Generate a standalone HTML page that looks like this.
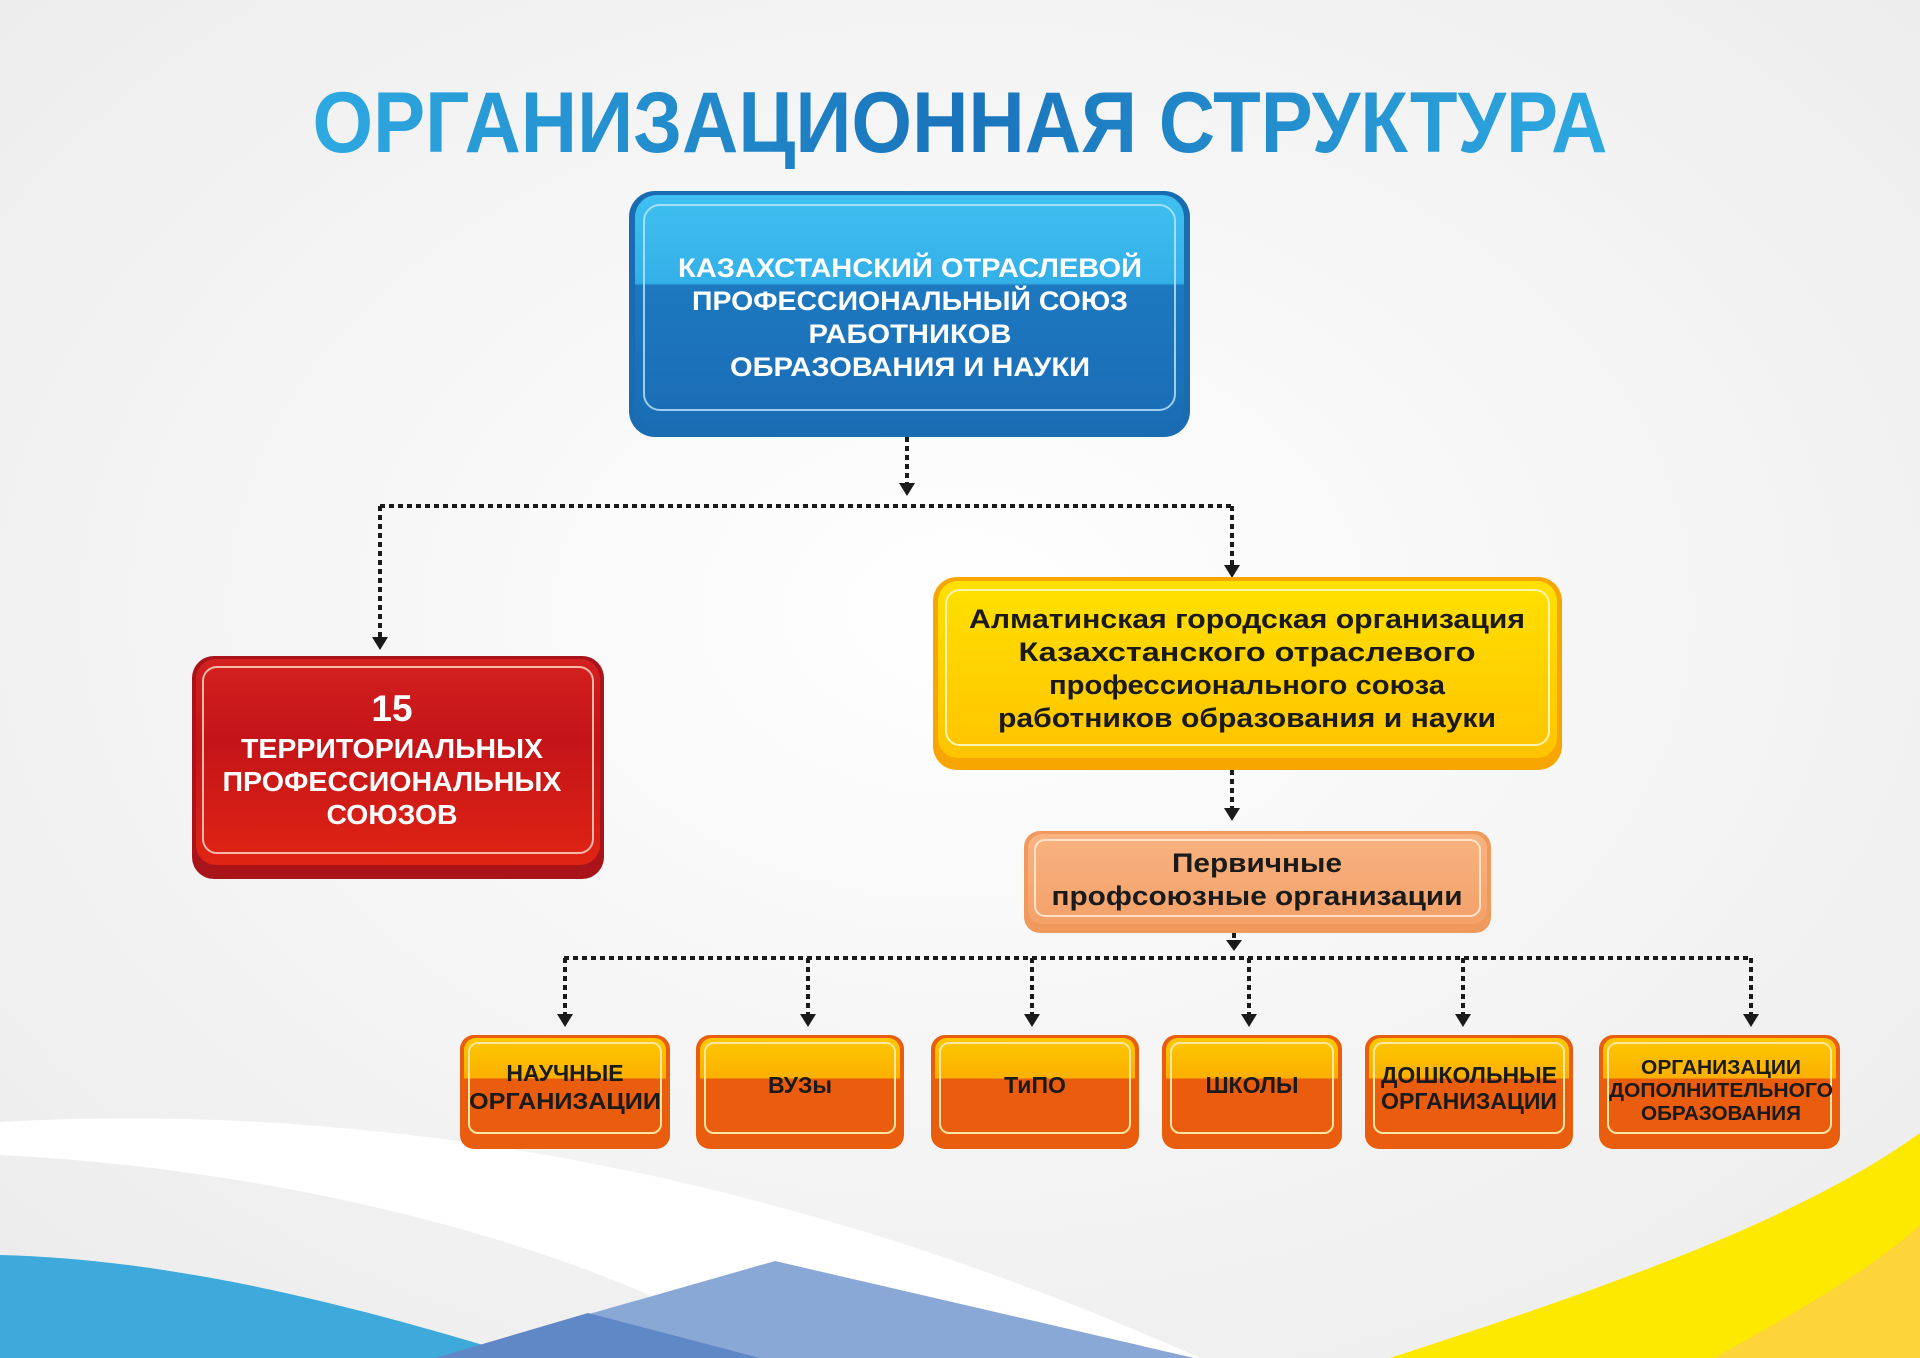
<!DOCTYPE html>
<html><head><meta charset="utf-8"><style>
html,body{margin:0;padding:0;}
body{width:1920px;height:1358px;overflow:hidden;background:#f4f4f4;}
svg{display:block;font-family:"Liberation Sans",sans-serif;font-weight:bold;}
</style></head><body>
<svg width="1920" height="1358" viewBox="0 0 1920 1358" xmlns="http://www.w3.org/2000/svg">
<defs>
<radialGradient id="bg" cx="0.5" cy="0.45" r="0.7"><stop offset="0" stop-color="#ffffff"/><stop offset="1" stop-color="#ececec"/></radialGradient>
<linearGradient id="tt" x1="0" x2="1"><stop offset="0" stop-color="#2ea9e1"/><stop offset="0.5" stop-color="#1a74bb"/><stop offset="1" stop-color="#2ea9e1"/></linearGradient>
<linearGradient id="bl" x1="0" y1="0" x2="0" y2="1"><stop offset="0" stop-color="#3ec0f0"/><stop offset="0.38" stop-color="#34b0e8"/><stop offset="0.39" stop-color="#1d78c0"/><stop offset="1" stop-color="#1a6db5"/></linearGradient>
<linearGradient id="rd" x1="0" y1="0" x2="0" y2="1"><stop offset="0" stop-color="#d42020"/><stop offset="0.4" stop-color="#c41418"/><stop offset="1" stop-color="#e02414"/></linearGradient>
<linearGradient id="yl" x1="0" y1="0" x2="0" y2="1"><stop offset="0" stop-color="#ffe000"/><stop offset="1" stop-color="#ffc400"/></linearGradient>
<linearGradient id="pc" x1="0" y1="0" x2="0" y2="1"><stop offset="0" stop-color="#f8b380"/><stop offset="1" stop-color="#f4a16a"/></linearGradient>
<linearGradient id="or" x1="0" y1="0" x2="0" y2="1"><stop offset="0" stop-color="#fdc800"/><stop offset="0.4" stop-color="#fbb000"/><stop offset="0.41" stop-color="#ea5c0e"/><stop offset="1" stop-color="#ea5c0e"/></linearGradient>
</defs>
<rect width="1920" height="1358" fill="url(#bg)"/>
<path d="M0,1122 C400,1100 800,1180 1200,1358 L770,1358 C600,1250 300,1170 0,1155 Z" fill="#ffffff"/>
<path d="M0,1255 C200,1260 400,1320 527,1358 L0,1358 Z" fill="#3eaadc"/>
<path d="M775,1261 L1194,1358 L435,1358 Z" fill="#8aa8d6"/>
<path d="M588,1313 L760,1358 L435,1358 Z" fill="#6088c6"/>
<path d="M1390,1358 C1600,1290 1800,1220 1920,1133 L1920,1358 Z" fill="#fde800"/>
<path d="M1714,1358 C1800,1310 1870,1270 1920,1225 L1920,1358 Z" fill="#fdd43a"/>
<text x="960" y="152" text-anchor="middle" font-size="86" fill="url(#tt)" textLength="1295" lengthAdjust="spacingAndGlyphs">ОРГАНИЗАЦИОННАЯ СТРУКТУРА</text>
<g stroke="#1a1a1a" stroke-width="4" stroke-dasharray="5 4" fill="none">
<path d="M907,437 V492"/>
<path d="M380,506 H1232"/>
<path d="M380,506 V640"/>
<path d="M1232,506 V570"/>
<path d="M1232,770 V815"/>
<path d="M1234,933 V948"/>
<path d="M564,958 H1751"/>
<path d="M565,958 V1020 M808,958 V1020 M1032,958 V1020 M1249,958 V1020 M1463,958 V1020 M1751,958 V1020"/>
</g>
<g fill="#1a1a1a">
<path d="M899,483 h16 l-8,13 z"/><path d="M372,637 h16 l-8,13 z"/><path d="M1224,565 h16 l-8,13 z"/>
<path d="M1224,808 h16 l-8,13 z"/><path d="M1226,940 h16 l-8,11 z"/>
<path d="M557,1014 h16 l-8,13 z"/><path d="M800,1014 h16 l-8,13 z"/><path d="M1024,1014 h16 l-8,13 z"/>
<path d="M1241,1014 h16 l-8,13 z"/><path d="M1455,1014 h16 l-8,13 z"/><path d="M1743,1014 h16 l-8,13 z"/>
</g>
<rect x="629" y="191" width="561" height="246" rx="26" fill="#1a6cb2"/>
<rect x="635" y="195" width="549" height="232" rx="22" fill="url(#bl)"/>
<rect x="644" y="205" width="531" height="205" rx="16" fill="none" stroke="#bfe6fb" stroke-width="2" opacity="0.8"/>
<g fill="#fff" font-size="27" text-anchor="middle" lengthAdjust="spacingAndGlyphs">
<text x="910" y="277" textLength="464" lengthAdjust="spacingAndGlyphs">КАЗАХСТАНСКИЙ ОТРАСЛЕВОЙ</text>
<text x="910" y="310" textLength="436" lengthAdjust="spacingAndGlyphs">ПРОФЕССИОНАЛЬНЫЙ СОЮЗ</text>
<text x="910" y="343" textLength="203" lengthAdjust="spacingAndGlyphs">РАБОТНИКОВ</text>
<text x="910" y="376" textLength="360" lengthAdjust="spacingAndGlyphs">ОБРАЗОВАНИЯ И НАУКИ</text>
</g>
<rect x="192" y="656" width="412" height="223" rx="22" fill="#a8141a"/>
<rect x="196" y="659" width="404" height="206" rx="20" fill="url(#rd)"/>
<rect x="203" y="667" width="390" height="186" rx="14" fill="none" stroke="#f6b8a8" stroke-width="2"/>
<g fill="#fff" font-size="28" text-anchor="middle">
<text x="392" y="721" font-size="37">15</text>
<text x="392" y="758" textLength="302" lengthAdjust="spacingAndGlyphs">ТЕРРИТОРИАЛЬНЫХ</text>
<text x="392" y="791" textLength="339" lengthAdjust="spacingAndGlyphs">ПРОФЕССИОНАЛЬНЫХ</text>
<text x="392" y="824" textLength="131" lengthAdjust="spacingAndGlyphs">СОЮЗОВ</text>
</g>
<rect x="933" y="577" width="629" height="193" rx="24" fill="#f7a600"/>
<rect x="938" y="581" width="619" height="177" rx="20" fill="url(#yl)"/>
<rect x="946" y="590" width="603" height="155" rx="14" fill="none" stroke="#fff4b0" stroke-width="2"/>
<g fill="#1a1a1a" font-size="27" text-anchor="middle">
<text x="1247" y="628" textLength="556" lengthAdjust="spacingAndGlyphs">Алматинская городская организация</text>
<text x="1247" y="661" textLength="457" lengthAdjust="spacingAndGlyphs">Казахстанского отраслевого</text>
<text x="1247" y="694" textLength="396" lengthAdjust="spacingAndGlyphs">профессионального союза</text>
<text x="1247" y="727" textLength="498" lengthAdjust="spacingAndGlyphs">работников образования и науки</text>
</g>
<rect x="1024" y="831" width="467" height="102" rx="16" fill="#ef9a5c"/>
<rect x="1028" y="834" width="459" height="90" rx="14" fill="url(#pc)"/>
<rect x="1035" y="840" width="445" height="76" rx="10" fill="none" stroke="#ffe2c8" stroke-width="2"/>
<g fill="#1a1a1a" font-size="27" text-anchor="middle">
<text x="1257" y="872" textLength="170" lengthAdjust="spacingAndGlyphs">Первичные</text>
<text x="1257" y="905" textLength="411" lengthAdjust="spacingAndGlyphs">профсоюзные организации</text>
</g>
<g>
<rect x="460" y="1035" width="210" height="114" rx="14" fill="#e95d0f"/><rect x="464" y="1038" width="202" height="100" rx="12" fill="url(#or)"/><rect x="469" y="1043" width="192" height="90" rx="9" fill="none" stroke="#ffe6a0" stroke-width="2"/>
<rect x="696" y="1035" width="208" height="114" rx="14" fill="#e95d0f"/><rect x="700" y="1038" width="200" height="100" rx="12" fill="url(#or)"/><rect x="705" y="1043" width="190" height="90" rx="9" fill="none" stroke="#ffe6a0" stroke-width="2"/>
<rect x="931" y="1035" width="208" height="114" rx="14" fill="#e95d0f"/><rect x="935" y="1038" width="200" height="100" rx="12" fill="url(#or)"/><rect x="940" y="1043" width="190" height="90" rx="9" fill="none" stroke="#ffe6a0" stroke-width="2"/>
<rect x="1162" y="1035" width="180" height="114" rx="14" fill="#e95d0f"/><rect x="1166" y="1038" width="172" height="100" rx="12" fill="url(#or)"/><rect x="1171" y="1043" width="162" height="90" rx="9" fill="none" stroke="#ffe6a0" stroke-width="2"/>
<rect x="1365" y="1035" width="208" height="114" rx="14" fill="#e95d0f"/><rect x="1369" y="1038" width="200" height="100" rx="12" fill="url(#or)"/><rect x="1374" y="1043" width="190" height="90" rx="9" fill="none" stroke="#ffe6a0" stroke-width="2"/>
<rect x="1599" y="1035" width="241" height="114" rx="14" fill="#e95d0f"/><rect x="1603" y="1038" width="233" height="100" rx="12" fill="url(#or)"/><rect x="1608" y="1043" width="223" height="90" rx="9" fill="none" stroke="#ffe6a0" stroke-width="2"/>
</g>
<g fill="#1a1a1a" font-size="23" text-anchor="middle">
<text x="565" y="1081">НАУЧНЫЕ</text>
<text x="565" y="1109" textLength="192" lengthAdjust="spacingAndGlyphs">ОРГАНИЗАЦИИ</text>
<text x="800" y="1093">ВУЗы</text>
<text x="1035" y="1093">ТиПО</text>
<text x="1252" y="1093">ШКОЛЫ</text>
<text x="1469" y="1083" textLength="176" lengthAdjust="spacingAndGlyphs">ДОШКОЛЬНЫЕ</text>
<text x="1469" y="1109" textLength="176" lengthAdjust="spacingAndGlyphs">ОРГАНИЗАЦИИ</text>
<text x="1721" y="1074" font-size="20" textLength="160" lengthAdjust="spacingAndGlyphs">ОРГАНИЗАЦИИ</text>
<text x="1721" y="1097" font-size="20" textLength="224" lengthAdjust="spacingAndGlyphs">ДОПОЛНИТЕЛЬНОГО</text>
<text x="1721" y="1120" font-size="20" textLength="160" lengthAdjust="spacingAndGlyphs">ОБРАЗОВАНИЯ</text>
</g>
</svg>
</body></html>
